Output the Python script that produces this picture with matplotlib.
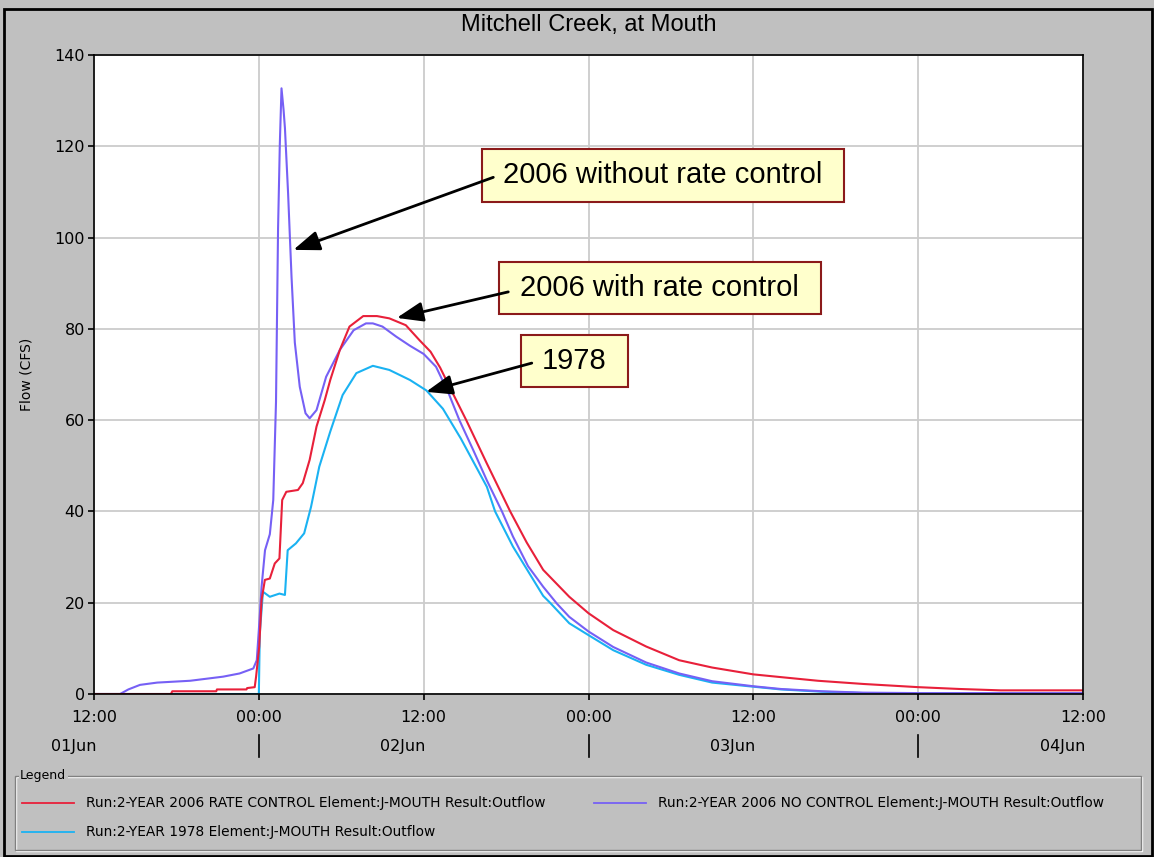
import matplotlib
matplotlib.use('Agg')
import matplotlib.pyplot as plt
import matplotlib.transforms as mtransforms
from matplotlib.lines import Line2D
from matplotlib.patches import Rectangle

# time axis: hours after 12:00 on 01Jun
t_rate = [0, 5.6, 5.7, 8.9, 8.95, 11.1, 11.15, 11.7, 11.8, 12.03, 12.2, 12.44, 12.8,
          13.16, 13.5, 13.7, 14.0, 14.85, 15.2, 15.7, 16.2, 16.8, 17.2, 17.9, 18.6,
          19.6, 20.6, 21.5, 22.7, 23.7, 24.5, 25.2, 26.1, 27.1, 28.6, 30.3, 31.5,
          32.7, 34.6, 36, 37.8, 40.2, 42.6, 45, 48, 50, 52.7, 56, 60, 63, 66, 72]
q_rate = [0, 0, 0.6, 0.6, 1.0, 1.0, 1.3, 1.5, 3.8, 10.4, 20.6, 25, 25.3,
          28.6, 29.7, 42.5, 44.3, 44.7, 46.2, 51.3, 58.6, 64.4, 68.8, 75.4, 80.5,
          82.8, 82.8, 82.3, 80.8, 77.5, 75, 71.5, 66, 60, 50.5, 40, 33.2,
          27.2, 21.3, 17.7, 14, 10.4, 7.4, 5.8, 4.3, 3.7, 2.9, 2.2, 1.5, 1.1, 0.8, 0.8]

t_nocontrol = [0, 1.9, 2.5, 3.35, 4.6, 7.0, 9.4, 10.6, 11.6, 11.85, 12.0, 12.2, 12.45,
               12.8, 13.05, 13.25, 13.4, 13.53, 13.65, 13.8, 13.9, 14.13, 14.38, 14.62,
               14.98, 15.4, 15.7, 16.2, 16.9, 17.9, 18.9, 19.8, 20.3, 21.0, 22.0, 23.0,
               24.0, 24.9, 25.8, 26.6, 27.6, 28.6, 29.7, 30.5, 31.6, 32.7, 33.7, 34.6,
               36, 37.8, 40.2, 42.6, 45, 48, 50, 53, 56, 60, 72]
q_nocontrol = [0, 0, 1.0, 2.0, 2.5, 2.9, 3.8, 4.5, 5.6, 7.4, 14, 23.5, 31.5,
               35, 42.5, 64, 102, 120.7, 132.7, 128, 124, 109.7, 91.4, 77,
               67.3, 61.5, 60.4, 62.2, 69.5, 75.4, 79.7, 81.2, 81.2, 80.5, 78.3, 76.3,
               74.5, 71.7, 66, 60, 53.5, 46.8, 40, 34.5, 28, 23.5, 19.8, 16.9,
               13.7, 10.3, 6.9, 4.5, 2.8, 1.7, 1.1, 0.6, 0.3, 0.2, 0.2]

t_1978 = [0, 12.0, 12.07, 12.3, 12.8, 13.5, 13.9, 14.1, 14.7, 15.3, 15.8, 16.4, 17.2,
          18.1, 19.1, 20.3, 21.5, 23.0, 24.2, 25.4, 25.9, 26.7, 28.6, 29.2, 30.5,
          32.7, 33.2, 34.6, 36, 37.8, 40.2, 42.6, 45, 48, 50, 53, 56, 60, 72]
q_1978 = [0, 0, 13.3, 22.4, 21.3, 22, 21.7, 31.5, 33, 35.2, 41, 49.8, 57.5,
          65.5, 70.3, 71.9, 71, 68.8, 66.5, 62.5, 60, 56, 45.4, 40, 32.3,
          21.5, 20, 15.5, 12.9, 9.6, 6.4, 4.2, 2.5, 1.6, 1.0, 0.5, 0.2, 0.1, 0.1]

tick_hours = [0, 12, 24, 36, 48, 60, 72]
tick_labels = ['12:00', '00:00', '12:00', '00:00', '12:00', '00:00', '12:00']
day_hours = [0, 24, 48, 72]
day_labels = ['01Jun', '02Jun', '03Jun', '04Jun']
day_breaks = [12, 36, 60]

red = '#e8203a'
purple = '#7660f5'
cyan = '#1ab2f2'

W, H = 1154, 857
def fx(px):
    return px / W
def fy(py):
    return 1 - py / H

fig = plt.figure(figsize=(W / 100, H / 100), dpi=100, facecolor='#c0c0c0')
ax = fig.add_axes([fx(94), fy(694), 989 / W, 639 / H])
ax.set_facecolor('white')

ax.plot(t_1978, q_1978, color=cyan, lw=1.5, zorder=2)
ax.plot(t_nocontrol, q_nocontrol, color=purple, lw=1.5, zorder=2)
ax.plot(t_rate, q_rate, color=red, lw=1.5, zorder=2)

ax.set_xlim(0, 72)
ax.set_ylim(0, 140)
ax.set_xticks(tick_hours)
ax.set_xticklabels(tick_labels)
ax.set_yticks(range(0, 141, 20))
ax.grid(True, color='#cccccc', lw=1.3, zorder=0)
ax.set_axisbelow(True)
for s in ax.spines.values():
    s.set_linewidth(1.2)
    s.set_color('black')
ax.tick_params(axis='both', direction='out', length=4.5, width=1.2,
               labelsize=11.5, colors='black')
ax.tick_params(axis='x', pad=7)
ax.tick_params(axis='y', pad=2)
ax.set_ylabel('Flow (CFS)', fontsize=10, labelpad=15)

# second row of date labels
trans = mtransforms.blended_transform_factory(ax.transData, ax.transAxes)
tr_off = mtransforms.offset_copy(trans, fig=fig, x=2, y=0, units='dots')
for h, lbl in zip(day_hours, day_labels):
    ax.text(h, -0.0814, lbl, transform=tr_off, ha='right', va='center', fontsize=11.5)
for h in day_breaks:
    ax.add_line(Line2D([h, h], [-0.064, -0.0986], transform=trans, color='black',
                       lw=1.2, clip_on=False))

fig.text(fx(589), fy(25), 'Mitchell Creek, at Mouth', ha='center', va='center',
         fontsize=17, family='Liberation Sans')

# callouts
box = dict(boxstyle='square,pad=0.73', mutation_aspect=0.575, fc='#ffffcc',
           ec='#8b1a1a', lw=1.5)
ax.text(41.42, 113.6, '2006 without rate control', ha='center', va='center',
        fontsize=21, family='Liberation Sans', bbox=box, zorder=4)
ax.text(41.2, 88.96, '2006 with rate control', ha='center', va='center',
        fontsize=21, family='Liberation Sans', bbox=box, zorder=4)
ax.text(34.98, 72.96, '1978', ha='center', va='center',
        fontsize=21, family='Liberation Sans', bbox=box, zorder=4)
arrow = dict(arrowstyle='-|>,head_length=0.8,head_width=0.3', color='black', lw=2,
             mutation_scale=20, shrinkA=0, shrinkB=0)
ax.annotate('', xy=(14.51, 97.3), xytext=(29.07, 113.2), arrowprops=arrow, zorder=5)
ax.annotate('', xy=(22.04, 82.4), xytext=(30.16, 88.1), arrowprops=arrow, zorder=5)
ax.annotate('', xy=(24.17, 66.2), xytext=(31.87, 72.5), arrowprops=arrow, zorder=5)

# legend panel
fig.add_artist(Rectangle((fx(16), fy(851)), 1126 / W, 74 / H, transform=fig.transFigure,
                         fill=False, ec='white', lw=1))
fig.add_artist(Rectangle((fx(15), fy(850)), 1126 / W, 74 / H, transform=fig.transFigure,
                         fill=False, ec='#808080', lw=1))
fig.text(fx(20), fy(776), 'Legend', ha='left', va='center', fontsize=9,
         bbox=dict(fc='#c0c0c0', ec='none', pad=1))
entries = [(red, 'Run:2-YEAR 2006 RATE CONTROL Element:J-MOUTH Result:Outflow', 22, 803),
           (purple, 'Run:2-YEAR 2006 NO CONTROL Element:J-MOUTH Result:Outflow', 594, 803),
           (cyan, 'Run:2-YEAR 1978 Element:J-MOUTH Result:Outflow', 22, 832)]
for c, lbl, x0, y0 in entries:
    fig.add_artist(Line2D([fx(x0), fx(x0 + 52)], [fy(y0), fy(y0)], color=c, lw=1.3))
    fig.text(fx(x0 + 64), fy(y0), lbl, ha='left', va='center', fontsize=9.9)

# outer frame
fig.add_artist(Rectangle((fx(4), fy(856)), 1148 / W, 847 / H, transform=fig.transFigure,
                         fill=False, ec='black', lw=2))

fig.savefig('out.png', dpi=100, facecolor=fig.get_facecolor())
